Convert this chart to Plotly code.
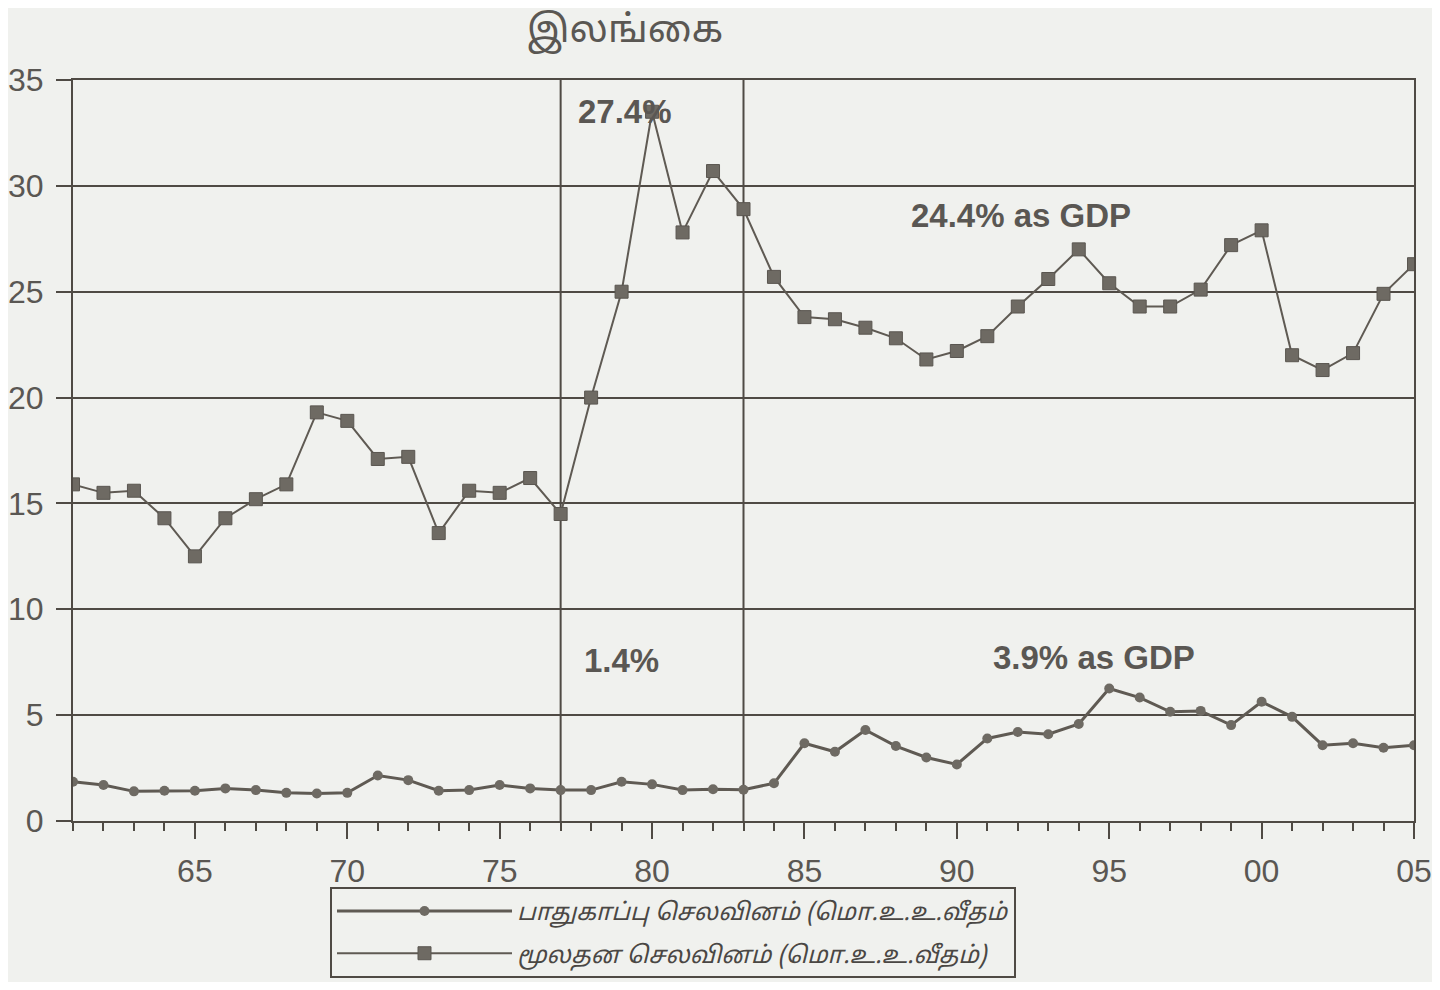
import plotly.graph_objects as go

years = list(range(1961, 2006))

capital_exp = [15.9, 15.5, 15.6, 14.3, 12.5, 14.3, 15.2, 15.9, 19.3, 18.9,
               17.1, 17.2, 13.6, 15.6, 15.5, 16.2, 14.5, 20.0, 25.0, 33.5,
               27.8, 30.7, 28.9, 25.7, 23.8, 23.7, 23.3, 22.8, 21.8, 22.2,
               22.9, 24.3, 25.6, 27.0, 25.4, 24.3, 24.3, 25.1, 27.2, 27.9,
               22.0, 21.3, 22.1, 24.9, 26.3]

defence_exp = [1.85, 1.7, 1.4, 1.43, 1.43, 1.54, 1.46, 1.33, 1.3, 1.33,
               2.15, 1.93, 1.43, 1.46, 1.7, 1.54, 1.46, 1.46, 1.85, 1.73,
               1.46, 1.5, 1.48, 1.78, 3.67, 3.27, 4.3, 3.54, 3.0, 2.67,
               3.9, 4.2, 4.1, 4.58, 6.26, 5.83, 5.16, 5.2, 4.53, 5.63,
               4.92, 3.58, 3.67, 3.46, 3.58]

x_tickvals = [1965, 1970, 1975, 1980, 1985, 1990, 1995, 2000, 2005]
x_ticktext = ["65", "70", "75", "80", "85", "90", "95", "00", "05"]
y_tickvals = [0, 5, 10, 15, 20, 25, 30, 35]
period_marks = [1977, 1983]

title_text = "இலங்கை"
defence_name = "பாதுகாப்பு செலவினம் (மொ.உ.உ.வீதம்"
capital_name = "மூலதன செலவினம் (மொ.உ.உ.வீதம்)"

notes = [
    (1979.1, 33.5, "27.4%"),
    (1992.1, 28.6, "24.4% as GDP"),
    (1979.0, 7.6, "1.4%"),
    (1994.5, 7.7, "3.9% as GDP"),
]

TAMIL = "Noto Sans Tamil, Lohit Tamil, Latha, Noto Sans, sans-serif"
LATIN = "Liberation Sans, Arial, sans-serif"
INK = "#4f4a44"
LINE = "#5f5a53"
TXT = "#5a5753"
BG = "#f0f1ee"

W, H = 1424, 974

fig = go.Figure()

fig.add_trace(go.Scatter(
    x=years, y=defence_exp, mode="lines+markers", name=defence_name,
    legendgroup="a",
    line=dict(color=LINE, width=3),
    marker=dict(symbol="circle", size=10, color="#6e6a63"),
))
fig.add_trace(go.Scatter(
    x=years, y=capital_exp, mode="lines+markers", name=capital_name,
    legendgroup="b",
    line=dict(color=LINE, width=2),
    marker=dict(symbol="square", size=13, color="#6e6a63",
                line=dict(color="#5a5650", width=1)),
))

for yr in period_marks:
    fig.add_vline(x=yr, line=dict(color=INK, width=2), layer="below")

for xv, yv, t in notes:
    fig.add_annotation(x=xv, y=yv, text="<b>" + t + "</b>", showarrow=False,
                       font=dict(family=LATIN, size=33, color=TXT),
                       xanchor="center", yanchor="middle")

fig.update_layout(
    width=W, height=H,
    margin=dict(l=65, r=18, t=72, b=161, autoexpand=False),
    paper_bgcolor=BG, plot_bgcolor=BG,
    title=dict(text=title_text, xref="container", yref="container",
               x=617 / W, y=1 - 21 / H, xanchor="center", yanchor="middle",
               font=dict(family=TAMIL, size=38, color=TXT)),
    showlegend=True,
    legend=dict(
        x=(322 - 65) / 1341, y=-0.089, xanchor="left", yanchor="top",
        bgcolor=BG, bordercolor=INK, borderwidth=2,
        font=dict(family=TAMIL, size=24, color="#4a4744", style="italic"),
        itemwidth=175, tracegroupgap=8,
    ),
    xaxis=dict(
        range=[1961, 2005], tickvals=x_tickvals, ticktext=x_ticktext,
        ticks="outside", ticklen=16, tickwidth=2, tickcolor=INK,
        minor=dict(tick0=1961, dtick=1, ticks="outside", ticklen=8,
                   tickwidth=2, tickcolor=INK, showgrid=False),
        showgrid=False, zeroline=False, automargin=False,
        showline=True, linecolor=INK, linewidth=2, mirror=True,
        ticklabelstandoff=5,
        tickfont=dict(family=LATIN, size=32, color=TXT),
    ),
    yaxis=dict(
        range=[0, 35], tickvals=y_tickvals,
        ticks="outside", ticklen=15, tickwidth=2, tickcolor=INK,
        showgrid=True, gridcolor=INK, gridwidth=2, zeroline=False,
        showline=True, linecolor=INK, linewidth=2, mirror=True,
        automargin=False, ticklabelstandoff=6,
        tickfont=dict(family=LATIN, size=32, color=TXT),
    ),
)

fig.write_html("out.html")
